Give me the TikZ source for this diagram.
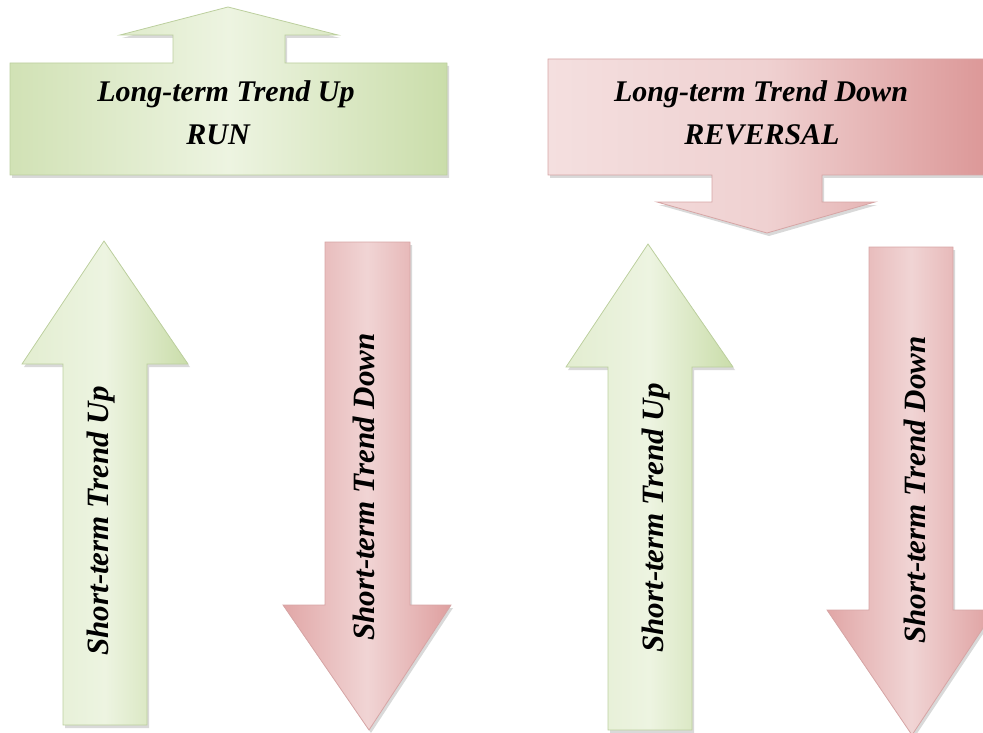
\documentclass[tikz,border=0pt]{standalone}
\usepackage{fontspec}
\setmainfont{Liberation Serif}
\usetikzlibrary{shadows}
\definecolor{gL}{RGB}{237,244,225}
\definecolor{gD}{RGB}{202,221,170}
\definecolor{gE}{RGB}{188,207,158}
\definecolor{rL}{RGB}{244,223,223}
\definecolor{rD}{RGB}{220,152,152}
\definecolor{rE}{RGB}{214,165,165}
\tikzset{
  shad/.style={drop shadow={opacity=0.3, shadow xshift=2pt, shadow yshift=-3pt}},
  greenshape/.style={draw=gE, line width=0.8pt, shad},
  redshape/.style={draw=rE, line width=0.8pt, shad},
  lbl/.style={font=\bfseries\itshape\fontsize{30}{33}\selectfont, inner sep=0pt, text=black},
  vlbl/.style={font=\bfseries\itshape\fontsize{31}{34}\selectfont, inner sep=0pt, text=black, rotate=90}
}
\begin{document}
\begin{tikzpicture}[x=1pt,y=-1pt]
\useasboundingbox (0,0) rectangle (983,733);
\begin{scope}
\clip (0,0) rectangle (983,733);
% top-left box with up arrow
\path[greenshape, left color=gD!80!gL, right color=gD, middle color=gL]
  (10,63) -- (173,63) -- (173,35) -- (120,35) -- (228,7) -- (338,35) -- (285,35)
  -- (285,63) -- (447,63) -- (447,175) -- (10,175) -- cycle;
% top-right box with down arrow
\path[redshape, left color=rL, right color=rD, middle color=rL!80!rD]
  (548,59) -- (985,59) -- (985,175) -- (822,175) -- (822,202) -- (875,202)
  -- (767,233) -- (657,202) -- (712,202) -- (712,175) -- (548,175) -- cycle;
% left green up arrow
\path[greenshape, left color=gL!70!gD, right color=gD, middle color=gL]
  (104,241) -- (188,364) -- (147,364) -- (147,725) -- (63,725) -- (63,364)
  -- (22,364) -- cycle;
% left red down arrow
\path[redshape, left color=rD!80!rL, right color=rD!90!rL, middle color=rL!85!rD]
  (325,242) -- (410,242) -- (410,605) -- (451,605) -- (369,730) -- (283,605)
  -- (325,605) -- cycle;
% right green up arrow
\path[greenshape, left color=gL!70!gD, right color=gD, middle color=gL]
  (648,244) -- (733,367) -- (692,367) -- (692,730) -- (608,730) -- (608,367)
  -- (566,367) -- cycle;
% right red down arrow
\path[redshape, left color=rD!80!rL, right color=rD!90!rL, middle color=rL!85!rD]
  (869,247) -- (953,247) -- (953,610) -- (995,610) -- (912,735) -- (827,610)
  -- (869,610) -- cycle;
\end{scope}
% labels
\node[lbl] (lt1) at (226,94) {Long-term Trend Up};
\node[lbl] (lt2) at (218,135) {RUN};
\node[lbl] (rt1) at (761,94) {Long-term Trend Down};
\node[lbl] (rt2) at (762,135) {REVERSAL};
\node[vlbl] (s1) at (101,521) {Short-term Trend Up};
\node[vlbl] (s2) at (364,487) {Short-term Trend Down};
\node[vlbl] (s3) at (656,518) {Short-term Trend Up};
\node[vlbl] (s4) at (915,490) {Short-term Trend Down};
\end{tikzpicture}
\end{document}
